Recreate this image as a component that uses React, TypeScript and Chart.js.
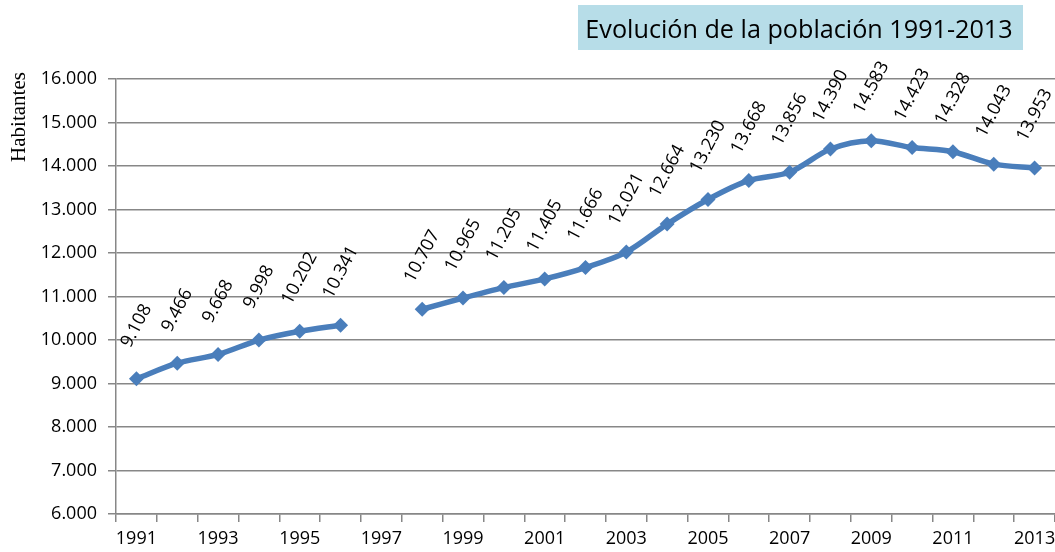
import React, { useEffect, useRef } from "react";
import { Chart, registerables } from "chart.js";

Chart.register(...registerables);

const years = [
  "1991", "1992", "1993", "1994", "1995", "1996", "1997", "1998", "1999", "2000",
  "2001", "2002", "2003", "2004", "2005", "2006", "2007", "2008", "2009", "2010",
  "2011", "2012", "2013",
];
const population: (number | null)[] = [
  9108, 9466, 9668, 9998, 10202, 10341, null, 10707, 10965, 11205,
  11405, 11666, 12021, 12664, 13230, 13668, 13856, 14390, 14583, 14423,
  14328, 14043, 13953,
];
const yMin = 6000;
const yMax = 16000;
const yStep = 1000;
const chartTitle = "Evolución de la población 1991-2013";
const yAxisTitle = "Habitantes";

const fmt = (n: number) => String(Math.round(n)).replace(/\B(?=(\d{3})+(?!\d))/g, ".");

const LINE = "#4a7ebb";
const GRID = "#878787";
const FONT = "'Open Sans', Lato, sans-serif";

const titlePlugin = {
  id: "titleBox",
  afterDraw(chart: any) {
    const ctx = chart.ctx;
    ctx.save();
    ctx.fillStyle = "#b7dde8";
    ctx.fillRect(578, 5, 445, 45);
    ctx.fillStyle = "#000";
    ctx.font = `26px ${FONT}`;
    const w = ctx.measureText(chartTitle).width;
    const size = Math.min(28, (26 * 427) / w);
    ctx.font = `${size.toFixed(1)}px ${FONT}`;
    ctx.textBaseline = "alphabetic";
    ctx.textAlign = "center";
    ctx.fillText(chartTitle, 799, 38);
    ctx.restore();
  },
};

const yTitlePlugin = {
  id: "yTitle",
  afterDraw(chart: any) {
    const ctx = chart.ctx;
    ctx.save();
    ctx.translate(19, 117);
    ctx.rotate(-Math.PI / 2);
    ctx.fillStyle = "#000";
    ctx.font = "21px 'Liberation Serif', 'DejaVu Serif', serif";
    ctx.textAlign = "center";
    ctx.textBaseline = "middle";
    ctx.fillText(yAxisTitle, 0, 0);
    ctx.restore();
  },
};

const labelPlugin = {
  id: "pointLabels",
  afterDatasetsDraw(chart: any) {
    const ctx = chart.ctx;
    const meta = chart.getDatasetMeta(0);
    ctx.save();
    ctx.fillStyle = "#000";
    ctx.font = `18px ${FONT}`;
    ctx.textAlign = "center";
    ctx.textBaseline = "middle";
    meta.data.forEach((pt: any, i: number) => {
      const v = population[i];
      if (v == null) return;
      ctx.save();
      ctx.translate(pt.x, pt.y - 53);
      ctx.rotate((-62 * Math.PI) / 180);
      ctx.fillText(fmt(v), 0, 0);
      ctx.restore();
    });
    ctx.restore();
  },
};

export default function App() {
  const ref = useRef<HTMLCanvasElement>(null);
  useEffect(() => {
    if (!ref.current) return;
    const chart = new Chart(ref.current, {
      type: "line",
      data: {
        labels: years,
        datasets: [
          {
            data: population,
            borderColor: LINE,
            backgroundColor: LINE,
            borderWidth: 5.5,
            tension: 0.3,
            spanGaps: false,
            pointStyle: "rectRot",
            pointRadius: 7.5,
            pointHoverRadius: 7.5,
            pointBackgroundColor: LINE,
            pointBorderColor: LINE,
            pointBorderWidth: 0,
          },
        ],
      },
      options: {
        animation: false,
        responsive: false,
        maintainAspectRatio: false,
        layout: { autoPadding: false, padding: { top: 79, right: 0, bottom: 0, left: 0 } },
        plugins: {
          legend: { display: false },
          title: { display: false },
          tooltip: { enabled: false },
        },
        scales: {
          x: {
            type: "category",
            offset: true,
            afterFit: (scale: any) => {
              scale.height = 38;
              scale.paddingLeft = 0;
              scale.paddingRight = 0;
            },
            grid: {
              display: true,
              offset: true,
              drawOnChartArea: false,
              drawTicks: true,
              tickLength: 8,
              color: GRID,
              lineWidth: 1.5,
            },
            border: { display: true, color: GRID, width: 1.5 },
            ticks: {
              autoSkip: false,
              maxRotation: 0,
              minRotation: 0,
              padding: 6,
              color: "#000",
              font: { family: FONT, size: 18 },
              callback: (_v: any, i: number) => (i % 2 === 0 ? years[i] : ""),
            },
          },
          y: {
            min: yMin,
            max: yMax,
            afterFit: (scale: any) => {
              scale.width = 116;
            },
            grid: {
              color: GRID,
              lineWidth: 1.5,
              drawTicks: true,
              tickLength: 8,
            },
            border: { display: true, color: GRID, width: 1.5 },
            ticks: {
              stepSize: yStep,
              padding: 11,
              color: "#000",
              font: { family: FONT, size: 18 },
              callback: (v: any) => fmt(Number(v)),
            },
          },
        },
      },
      plugins: [titlePlugin, yTitlePlugin, labelPlugin],
    });
    return () => chart.destroy();
  }, []);
  return (
    <div style={{ position: "fixed", left: 0, top: 0, width: 1055, height: 552, background: "#fff" }}>
      <canvas ref={ref} width={1055} height={552} style={{ width: 1055, height: 552 }} />
    </div>
  );
}
